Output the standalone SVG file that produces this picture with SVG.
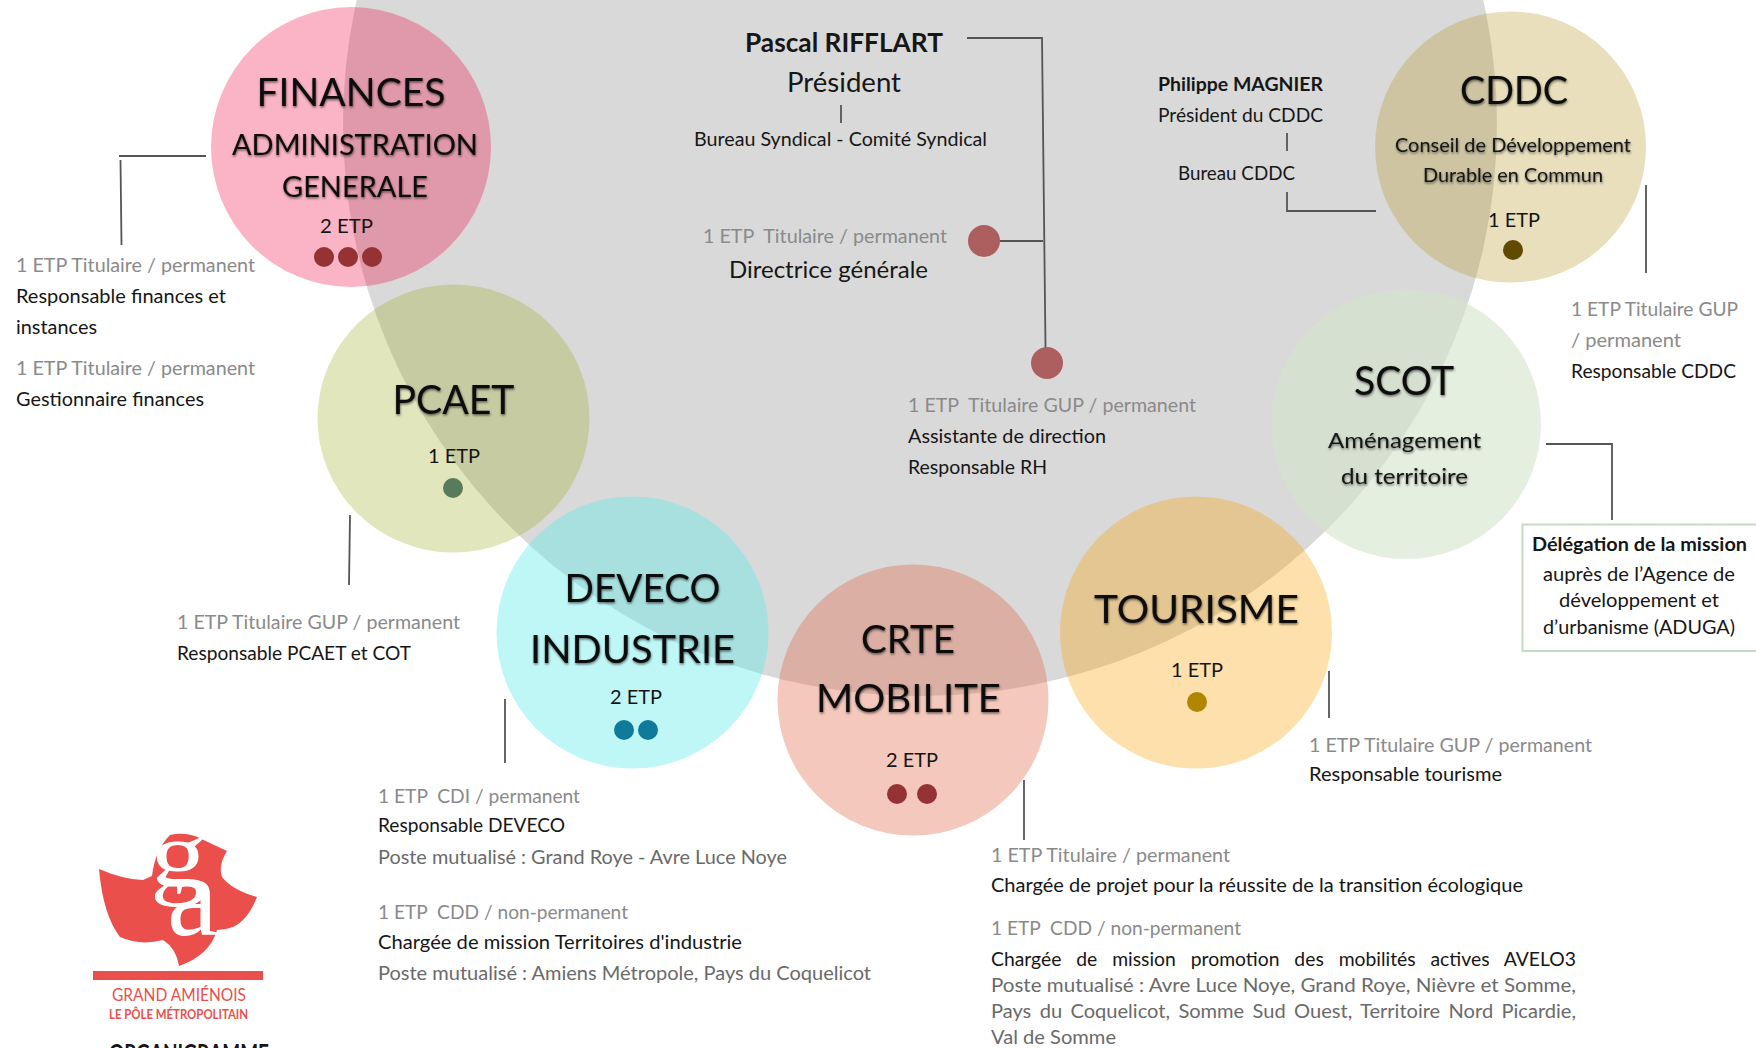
<svg xmlns="http://www.w3.org/2000/svg" width="1756" height="1048" viewBox="0 0 1756 1048">
<style>
text{font-family:Lato,"Noto Sans",sans-serif;fill:#161616;white-space:pre}
.b{font-size:18.5px}
.g{font-size:18.5px;fill:#8a8a8a}
.m{font-size:18.5px;fill:#6a6a6a}
.t{font-size:39px;fill:#0c0c0c;filter:url(#ts)}
.s{font-size:29px;fill:#0c0c0c;filter:url(#ts)}
.u{font-size:20px;fill:#141414;filter:url(#ts)}
.e{font-size:20px;fill:#141414}
.c{stroke:#555;stroke-width:1.8;fill:none}
.logo{fill:#ea4f4c}
.ls{font-family:"Liberation Serif",serif;fill:#fff}
.lt{fill:#ea4f4c}
</style>
<defs>
<filter id="ts" x="-10%" y="-20%" width="120%" height="150%"><feDropShadow dx="0.5" dy="1.5" stdDeviation="1.3" flood-color="#000" flood-opacity="0.55"/></filter>
</defs>
<rect width="1756" height="1048" fill="#fff"/>
<ellipse id="centre" cx="920" cy="124" rx="577" ry="572" fill="#d9d9d9"/>

<g id="connectors">
<path class="c" d="M206 156H119M120.500 160L121.500 245"/>
<path class="c" d="M967 38H1042L1045.500 348M1000 241H1043"/>
<path class="c" d="M841 105V123"/>
<path class="c" d="M1287 133V151M1287 192V211H1376"/>
<path class="c" d="M1646 185V273"/>
<path class="c" d="M1546 444H1612V520"/>
<path class="c" d="M350 515L349 585"/>
<path class="c" d="M505 699V763"/>
<path class="c" d="M1024 780V840"/>
<path class="c" d="M1329 671V718"/>
</g>

<g id="president">
<text x="745" y="52" font-size="26" font-weight="700" textLength="198" lengthAdjust="spacingAndGlyphs">Pascal RIFFLART</text>
<text x="787" y="92" font-size="26" textLength="114" lengthAdjust="spacingAndGlyphs">Président</text>
<text x="694" y="146" font-size="19.500" textLength="293" lengthAdjust="spacingAndGlyphs">Bureau Syndical - Comité Syndical</text>
</g>
<g id="directrice">
<circle cx="984" cy="241" r="16" fill="#ad5f5f"/>
<text class="g" x="703" y="243" textLength="244" lengthAdjust="spacingAndGlyphs">1 ETP  Titulaire / permanent</text>
<text x="729" y="278" font-size="22.500" textLength="199" lengthAdjust="spacingAndGlyphs">Directrice générale</text>
</g>
<g id="assistante">
<circle cx="1047" cy="363" r="16" fill="#ad5f5f"/>
<text class="g" x="908" y="412" textLength="288" lengthAdjust="spacingAndGlyphs">1 ETP  Titulaire GUP / permanent</text>
<text class="b" x="908" y="443" textLength="198" lengthAdjust="spacingAndGlyphs">Assistante de direction</text>
<text class="b" x="908" y="474" textLength="139" lengthAdjust="spacingAndGlyphs">Responsable RH</text>
</g>
<g id="magnier">
<text x="1158" y="91" font-size="18.500" font-weight="700" textLength="165" lengthAdjust="spacingAndGlyphs">Philippe MAGNIER</text>
<text class="b" x="1158" y="122" textLength="165" lengthAdjust="spacingAndGlyphs">Président du CDDC</text>
<text class="b" x="1178" y="180" textLength="117" lengthAdjust="spacingAndGlyphs">Bureau CDDC</text>
</g>

<g id="finances">
<circle cx="351" cy="147" r="140" fill="#f1083e" fill-opacity=".3"/>
<text class="t" x="256.500" y="106" textLength="189" lengthAdjust="spacingAndGlyphs">FINANCES</text>
<text class="s" x="232" y="155" textLength="246" lengthAdjust="spacingAndGlyphs">ADMINISTRATION</text>
<text class="s" x="282" y="197" textLength="146" lengthAdjust="spacingAndGlyphs">GENERALE</text>
<text class="e" x="320" y="233" textLength="53" lengthAdjust="spacingAndGlyphs">2 ETP</text>
<circle cx="324" cy="257" r="10" fill="#943234"/><circle cx="348" cy="257" r="10" fill="#943234"/><circle cx="372" cy="257" r="10" fill="#943234"/>
<text class="g" x="16" y="272" textLength="239" lengthAdjust="spacingAndGlyphs">1 ETP Titulaire / permanent</text>
<text class="b" x="16" y="303" textLength="210" lengthAdjust="spacingAndGlyphs">Responsable finances et</text>
<text class="b" x="16" y="334" textLength="81" lengthAdjust="spacingAndGlyphs">instances</text>
<text class="g" x="16" y="375" textLength="239" lengthAdjust="spacingAndGlyphs">1 ETP Titulaire / permanent</text>
<text class="b" x="16" y="406" textLength="188" lengthAdjust="spacingAndGlyphs">Gestionnaire finances</text>
</g>

<g id="pcaet">
<ellipse cx="453.500" cy="418.500" rx="136" ry="134" fill="#9eac23" fill-opacity=".3"/>
<text class="t" x="392.500" y="414" style="font-size:41px" textLength="122" lengthAdjust="spacingAndGlyphs">PCAET</text>
<text class="e" x="428" y="463" textLength="52" lengthAdjust="spacingAndGlyphs">1 ETP</text>
<circle cx="453" cy="488" r="10" fill="#577b5b"/>
<text class="g" x="177" y="629" textLength="283" lengthAdjust="spacingAndGlyphs">1 ETP Titulaire GUP / permanent</text>
<text class="b" x="177" y="660" textLength="234" lengthAdjust="spacingAndGlyphs">Responsable PCAET et COT</text>
</g>

<g id="deveco">
<circle cx="632.500" cy="632.500" r="136" fill="#5febeb" fill-opacity=".4"/>
<text class="t" x="564.500" y="602" textLength="156" lengthAdjust="spacingAndGlyphs">DEVECO</text>
<text class="t" x="530" y="663" textLength="205" lengthAdjust="spacingAndGlyphs">INDUSTRIE</text>
<text class="e" x="610" y="704" textLength="52" lengthAdjust="spacingAndGlyphs">2 ETP</text>
<circle cx="624" cy="730" r="10" fill="#107a9a"/><circle cx="648" cy="730" r="10" fill="#107a9a"/>
<text class="g" x="378" y="803" textLength="202" lengthAdjust="spacingAndGlyphs">1 ETP  CDI / permanent</text>
<text class="b" x="378" y="832" textLength="187" lengthAdjust="spacingAndGlyphs">Responsable DEVECO</text>
<text class="m" x="378" y="864" textLength="409" lengthAdjust="spacingAndGlyphs">Poste mutualisé : Grand Roye - Avre Luce Noye</text>
<text class="g" x="378" y="919" textLength="250" lengthAdjust="spacingAndGlyphs">1 ETP  CDD / non-permanent</text>
<text class="b" x="378" y="949" textLength="364" lengthAdjust="spacingAndGlyphs">Chargée de mission Territoires d'industrie</text>
<text class="m" x="378" y="980" textLength="493" lengthAdjust="spacingAndGlyphs">Poste mutualisé : Amiens Métropole, Pays du Coquelicot</text>
</g>

<g id="crte">
<circle cx="913" cy="700" r="135.500" fill="#df613f" fill-opacity=".35"/>
<text class="t" x="861" y="653" textLength="94" lengthAdjust="spacingAndGlyphs">CRTE</text>
<text class="t" x="816" y="712" textLength="185" lengthAdjust="spacingAndGlyphs">MOBILITE</text>
<text class="e" x="886" y="767" textLength="52" lengthAdjust="spacingAndGlyphs">2 ETP</text>
<circle cx="897" cy="794" r="10" fill="#943234"/><circle cx="927" cy="794" r="10" fill="#943234"/>
<text class="g" x="991" y="862" textLength="239" lengthAdjust="spacingAndGlyphs">1 ETP Titulaire / permanent</text>
<text class="b" x="991" y="892" textLength="532" lengthAdjust="spacingAndGlyphs">Chargée de projet pour la réussite de la transition écologique</text>
<text class="g" x="991" y="935" textLength="250" lengthAdjust="spacingAndGlyphs">1 ETP  CDD / non-permanent</text>
<text class="b" x="991" y="966" word-spacing="9.500" textLength="585" lengthAdjust="spacingAndGlyphs">Chargée de mission promotion des mobilités actives AVELO3</text>
<text class="m" x="991" y="992" textLength="585" lengthAdjust="spacingAndGlyphs">Poste mutualisé : Avre Luce Noye, Grand Roye, Nièvre et Somme,</text>
<text class="m" x="991" y="1018" word-spacing="3" textLength="585" lengthAdjust="spacingAndGlyphs">Pays du Coquelicot, Somme Sud Ouest, Territoire Nord Picardie,</text>
<text class="m" x="991" y="1044" textLength="125" lengthAdjust="spacingAndGlyphs">Val de Somme</text>
</g>

<g id="tourisme">
<circle cx="1196" cy="632.500" r="136" fill="#f8a000" fill-opacity=".33"/>
<text class="t" x="1094" y="623" textLength="205" lengthAdjust="spacingAndGlyphs">TOURISME</text>
<text class="e" x="1171" y="677" textLength="52" lengthAdjust="spacingAndGlyphs">1 ETP</text>
<circle cx="1197" cy="702" r="10" fill="#b08500"/>
<text class="g" x="1309" y="752" textLength="283" lengthAdjust="spacingAndGlyphs">1 ETP Titulaire GUP / permanent</text>
<text class="b" x="1309" y="781" textLength="193" lengthAdjust="spacingAndGlyphs">Responsable tourisme</text>
</g>

<g id="scot">
<circle cx="1406" cy="424" r="135" fill="#d4e4cb" fill-opacity=".6"/>
<text class="t" x="1354" y="395" style="font-size:40px" textLength="100" lengthAdjust="spacingAndGlyphs">SCOT</text>
<text class="u" x="1328" y="448" style="font-size:21px" textLength="153" lengthAdjust="spacingAndGlyphs">Aménagement</text>
<text class="u" x="1341" y="484" style="font-size:21px" textLength="127" lengthAdjust="spacingAndGlyphs">du territoire</text>
</g>

<g id="cddc">
<circle cx="1510.500" cy="147" r="135.500" fill="#b69426" fill-opacity=".3"/>
<text class="t" x="1460" y="104" style="font-size:38px" textLength="108" lengthAdjust="spacingAndGlyphs">CDDC</text>
<text class="u" x="1395" y="152" textLength="236" lengthAdjust="spacingAndGlyphs">Conseil de Développement</text>
<text class="u" x="1423" y="182" textLength="180" lengthAdjust="spacingAndGlyphs">Durable en Commun</text>
<text class="e" x="1488" y="227" textLength="52" lengthAdjust="spacingAndGlyphs">1 ETP</text>
<circle cx="1513" cy="250" r="10" fill="#5f4a00"/>
<text class="g" x="1571" y="316" textLength="167" lengthAdjust="spacingAndGlyphs">1 ETP Titulaire GUP</text>
<text class="g" x="1571" y="347" textLength="110" lengthAdjust="spacingAndGlyphs">/ permanent</text>
<text class="b" x="1571" y="378" textLength="165" lengthAdjust="spacingAndGlyphs">Responsable CDDC</text>
</g>

<g id="delegation">
<rect x="1522.500" y="524.500" width="240" height="126.500" fill="#fff" stroke="#c5dac5" stroke-width="2"/>
<text x="1532" y="551" font-size="18.500" font-weight="700" textLength="215" lengthAdjust="spacingAndGlyphs">Délégation de la mission</text>
<text class="b" x="1543" y="581" textLength="192" lengthAdjust="spacingAndGlyphs">auprès de l’Agence de</text>
<text class="b" x="1559" y="607" textLength="160" lengthAdjust="spacingAndGlyphs">développement et</text>
<text class="b" x="1543" y="634" textLength="192" lengthAdjust="spacingAndGlyphs">d’urbanisme (ADUGA)</text>
</g>

<g id="logo">
<path class="logo" d="M99 869Q125 880 143 880L152 876Q155 850 170 835Q182 832 195 836L227 851Q218 865 222 877Q232 890 257 897Q248 920 233 927Q225 930 217 930Q210 955 179 966Q176 948 163 940Q140 946 120 937Q103 915 99 869Z"/>
<rect class="logo" x="93" y="971" width="170" height="9"/>
<text class="ls" x="150" y="887" font-size="96" textLength="57" lengthAdjust="spacingAndGlyphs">g</text>
<text class="ls" x="167" y="935" font-size="117" textLength="51" lengthAdjust="spacingAndGlyphs">a</text>
<text class="lt" x="112" y="1001" font-size="17" textLength="134" lengthAdjust="spacingAndGlyphs">GRAND AMIÉNOIS</text>
<text class="lt" x="109" y="1019" font-size="12.500" font-weight="700" textLength="139" lengthAdjust="spacingAndGlyphs">LE PÔLE MÉTROPOLITAIN</text>
<text x="109" y="1062" font-size="24" font-weight="700" textLength="160" lengthAdjust="spacingAndGlyphs">ORGANIGRAMME</text>
</g>
</svg>
